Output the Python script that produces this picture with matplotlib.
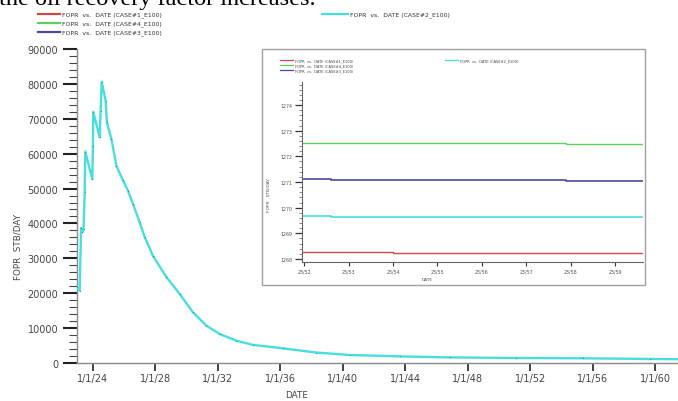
import matplotlib
matplotlib.use("Agg")
import matplotlib.pyplot as plt
from matplotlib.patches import Rectangle
from matplotlib.ticker import MultipleLocator

# ---------------- data ----------------
years = [1923.0, 1923.17, 1923.26, 1923.34, 1923.42, 1923.49, 1923.53, 1923.98,
         1924.02, 1924.04, 1924.45, 1924.51, 1924.58, 1924.83, 1924.91, 1925.2,
         1925.52, 1925.94, 1926.26, 1926.58, 1927.0, 1927.33, 1927.86, 1928.72,
         1929.57, 1930.42, 1931.28, 1932.13, 1933.2, 1934.26, 1936.18, 1938.3,
         1940.44, 1943.64, 1946.84, 1951.1, 1955.37, 1959.64, 1961.43]
fopr_case2 = [21700, 20700, 38700, 37500, 38400, 48900, 60600, 52700,
              62300, 72000, 64700, 72300, 80600, 75200, 69000, 64200,
              56500, 52400, 49400, 45600, 40400, 36100, 30700, 24600,
              19800, 14500, 10700, 8300, 6400, 5200, 4200, 3000,
              2300, 1900, 1600, 1430, 1350, 1150, 1100]

x_tick_years = [1924, 1928, 1932, 1936, 1940, 1944, 1948, 1952, 1956, 1960]
x_tick_labels = ["1/1/24", "1/1/28", "1/1/32", "1/1/36", "1/1/40",
                 "1/1/44", "1/1/48", "1/1/52", "1/1/56", "1/1/60"]

# inset (zoomed) data: minutes after 23:00
inset_minutes = [51.9, 52.6, 54.0, 56.0, 57.9, 59.65]
inset_case1 = [1268.28, 1268.26, 1268.25, 1268.24, 1268.23, 1268.22]
inset_case4 = [1272.54, 1272.53, 1272.52, 1272.51, 1272.50, 1272.49]
inset_case3 = [1271.11, 1271.09, 1271.08, 1271.07, 1271.05, 1271.03]
inset_case2 = [1269.66, 1269.65, 1269.64, 1269.63, 1269.62, 1269.61]
inset_xticks = [52, 53, 54, 55, 56, 57, 58, 59]
inset_xlabels = ["23/52", "23/53", "23/54", "23/55", "23/56", "23/57", "23/58", "23/59"]

legend_labels = ["FOPR  vs.  DATE (CASE#1_E100)", "FOPR  vs.  DATE (CASE#4_E100)",
                 "FOPR  vs.  DATE (CASE#3_E100)", "FOPR  vs.  DATE (CASE#2_E100)"]

RED, GREEN, BLUE, CYAN = "#d04848", "#5ed05e", "#4a4a9e", "#48dede"

W, H = 678, 402
fig = plt.figure(figsize=(W / 100, H / 100), dpi=100)
fig.patch.set_facecolor("white")

def fx(px): return px / W
def fy(py): return 1 - py / H

# partial document text at top (cut off in the reference too)
fig.text(fx(-1), fy(4.5), "the oil recovery factor increases.", family="Liberation Serif",
         fontsize=17.5, va="baseline", ha="left", color="black")

# ---------------- main axes ----------------
ax = fig.add_axes([fx(77), fy(364), fx(678) - fx(77), fy(50) - fy(364)])
ax.plot(years, fopr_case2, color=CYAN, lw=1.7, zorder=3)
ax.plot(years, fopr_case2, ls="none", marker="o", ms=0.8, mew=0, color="#3a7f8a", zorder=4)
ax.set_xlim(1923.0, 1961.45)
ax.set_ylim(0, 90000)
for s in ["top", "right"]:
    ax.spines[s].set_visible(False)
for s in ["left", "bottom"]:
    ax.spines[s].set_color("#8a8a8a")
    ax.spines[s].set_linewidth(1.0)
ax.yaxis.set_major_locator(MultipleLocator(10000))
ax.yaxis.set_minor_locator(MultipleLocator(2000))
ax.set_xticks(x_tick_years)
ax.set_xticklabels(x_tick_labels)
ax.tick_params(axis="y", which="major", length=10, width=1.5, color="#222222",
               labelsize=7, labelcolor="#444444", pad=3.5)
ax.tick_params(axis="y", which="minor", length=5.5, width=0.8, color="#444444")
ax.tick_params(axis="x", which="major", length=6, width=1.2, color="#222222",
               labelsize=7, labelcolor="#444444", pad=1.5)
ax.set_facecolor("white")

fig.text(fx(18), fy(247), "FOPR  STB/DAY", rotation=90, fontsize=6.3,
         color="#444444", ha="center", va="center")
fig.text(fx(297), fy(396), "DATE", fontsize=6.3, color="#444444", ha="center", va="center")

# main legend
leg_rows = [(RED, 15, 38, 60, legend_labels[0]), (GREEN, 24, 38, 60, legend_labels[1]),
            (BLUE, 33, 38, 60, legend_labels[2]), (CYAN, 15, 322, 348, legend_labels[3])]
for col, py, x0, x1, lab in leg_rows:
    fig.add_artist(plt.Line2D([fx(x0), fx(x1)], [fy(py), fy(py)], color=col, lw=1.6,
                              transform=fig.transFigure))
    fig.text(fx(x1 + 2), fy(py), lab, fontsize=4.4, color="#333333", va="center", ha="left")

# ---------------- inset ----------------
frame = Rectangle((fx(262), fy(286)), fx(645) - fx(262), fy(50) - fy(286),
                  transform=fig.transFigure, facecolor="white", edgecolor="#a0a0a0",
                  lw=1.0, zorder=5)
fig.add_artist(frame)

ins = fig.add_axes([fx(302), fy(263), fx(643) - fx(302), fy(83) - fy(263)])
ins.set_zorder(6)
ins.set_facecolor("none")
ins.plot(inset_minutes, inset_case4, color=GREEN, lw=1.0, drawstyle="steps-post")
ins.plot(inset_minutes, inset_case3, color=BLUE, lw=1.2, drawstyle="steps-post")
ins.plot(inset_minutes, inset_case2, color=CYAN, lw=1.2, drawstyle="steps-post")
ins.plot(inset_minutes, inset_case1, color=RED, lw=1.0, drawstyle="steps-post")
ins.set_xlim(51.95, 59.63)
ins.set_ylim(1267.88, 1274.9)
for s in ["top", "right"]:
    ins.spines[s].set_visible(False)
for s in ["left", "bottom"]:
    ins.spines[s].set_color("#666666")
    ins.spines[s].set_linewidth(0.8)
ins.yaxis.set_major_locator(MultipleLocator(1))
ins.yaxis.set_minor_locator(MultipleLocator(0.2))
ins.set_xticks(inset_xticks)
ins.set_xticklabels(inset_xlabels)
ins.tick_params(axis="y", which="major", length=5, width=0.9, color="#333333",
                labelsize=3.4, labelcolor="#555555", pad=2)
ins.tick_params(axis="y", which="minor", length=2.5, width=0.5, color="#555555")
ins.tick_params(axis="x", which="major", length=3, width=0.8, color="#333333",
                labelsize=3.4, labelcolor="#555555", pad=1.5)

fig.text(fx(269), fy(195), "FOPR   STB/DAY", rotation=90, fontsize=3.2, color="#555555",
         ha="center", va="center", zorder=7)
fig.text(fx(427), fy(280), "DATE", fontsize=3.2, color="#555555", ha="center",
         va="center", zorder=7)

ins_leg = [(RED, 61, 280, 293, legend_labels[0]), (GREEN, 66, 280, 293, legend_labels[1]),
           (BLUE, 71, 280, 293, legend_labels[2]), (CYAN, 61, 445, 458, legend_labels[3])]
for col, py, x0, x1, lab in ins_leg:
    fig.add_artist(plt.Line2D([fx(x0), fx(x1)], [fy(py), fy(py)], color=col, lw=0.9,
                              transform=fig.transFigure, zorder=7))
    fig.text(fx(x1 + 2), fy(py), lab, fontsize=2.6, color="#444444", va="center",
             ha="left", zorder=7)

fig.savefig("out.png", dpi=100, facecolor="white")
